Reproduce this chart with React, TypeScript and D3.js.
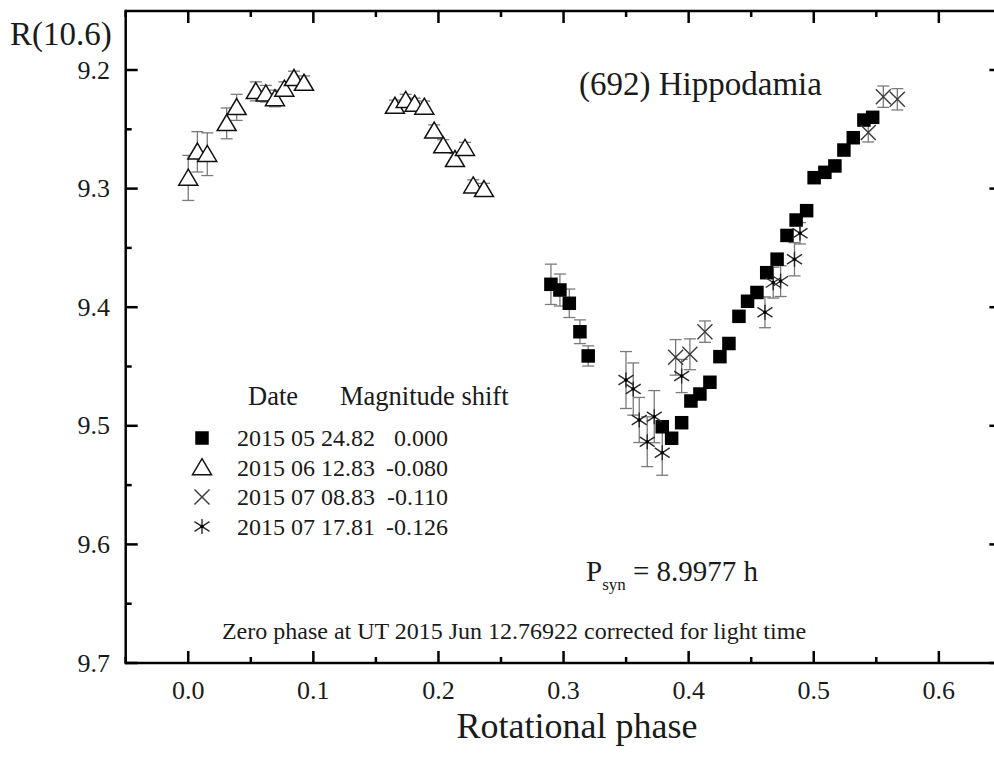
import React from "react";
import * as d3 from "d3";

// Lightcurve of (692) Hippodamia, R magnitude vs rotational phase
type Obs = { phase: number; mag: number; err: number };

const squarePhase = [0.2899, 0.2971, 0.3046, 0.3131, 0.3197, 0.3789, 0.3864, 0.3944, 0.4018, 0.409, 0.417, 0.425, 0.4322, 0.4402, 0.4471, 0.4546, 0.4624, 0.4707, 0.4786, 0.4859, 0.4943, 0.5003, 0.5089, 0.5169, 0.5241, 0.5316, 0.5401, 0.5471];
const squareMag = [9.3807, 9.3855, 9.3967, 9.4207, 9.4411, 9.5008, 9.5105, 9.4974, 9.4791, 9.4732, 9.4633, 9.4417, 9.4306, 9.4077, 9.395, 9.3876, 9.3709, 9.3595, 9.3395, 9.3265, 9.3186, 9.2908, 9.2863, 9.2809, 9.2675, 9.2571, 9.2422, 9.2399];
const squareErr = [0.017, 0.0135, 0.012, 0.01, 0.0085, 0, 0, 0, 0, 0, 0, 0, 0, 0, 0, 0, 0, 0, 0, 0, 0, 0, 0, 0, 0, 0, 0, 0];

const trianglePhase = [0.0, 0.0073, 0.0152, 0.0307, 0.0387, 0.054, 0.062, 0.0693, 0.0768, 0.0845, 0.0925, 0.1652, 0.1738, 0.181, 0.1887, 0.1966, 0.2038, 0.2132, 0.2212, 0.2278, 0.2364];
const triangleMag = [9.291, 9.269, 9.271, 9.245, 9.2315, 9.218, 9.22, 9.224, 9.216, 9.207, 9.211, 9.2304, 9.2255, 9.2287, 9.2312, 9.2513, 9.2638, 9.2753, 9.266, 9.2976, 9.3006];
const triangleErr = [0.019, 0.017, 0.018, 0.013, 0.011, 0.008, 0.007, 0.007, 0.006, 0.006, 0.006, 0.005, 0.005, 0.005, 0.005, 0.005, 0.005, 0.005, 0.005, 0.005, 0.005];

const crossPhase = [0.3896, 0.401, 0.413, 0.5436, 0.5556, 0.5668];
const crossMag = [9.4423, 9.4397, 9.4206, 9.2527, 9.2225, 9.2247];
const crossErr = [0.015, 0.013, 0.009, 0.008, 0.009, 0.009];

const starPhase = [0.3499, 0.3557, 0.3605, 0.3669, 0.3725, 0.3789, 0.3944, 0.461, 0.4676, 0.4735, 0.4846, 0.489];
const starMag = [9.4614, 9.469, 9.4951, 9.5134, 9.4923, 9.5227, 9.458, 9.4043, 9.3793, 9.378, 9.3596, 9.3377];
const starErr = [0.024, 0.022, 0.019, 0.021, 0.022, 0.019, 0.014, 0.013, 0.013, 0.013, 0.014, 0.009];

const legendDates = ["2015 05 24.82", "2015 06 12.83", "2015 07 08.83", "2015 07 17.81"];
const legendShifts = ["0.000", "-0.080", "-0.110", "-0.126"];

const xMajorTicks = [0.0, 0.1, 0.2, 0.3, 0.4, 0.5, 0.6];
const xMinorTicks = [-0.05, 0.05, 0.15, 0.25, 0.35, 0.45, 0.55, 0.65];
const yMajorTicks = [9.2, 9.3, 9.4, 9.5, 9.6, 9.7];
const yMinorTicks = [9.25, 9.35, 9.45, 9.55, 9.65];

const zip = (p: number[], m: number[], e: number[]): Obs[] =>
  p.map((phase, i) => ({ phase, mag: m[i], err: e[i] }));

const squares = zip(squarePhase, squareMag, squareErr);
const triangles = zip(trianglePhase, triangleMag, triangleErr);
const crosses = zip(crossPhase, crossMag, crossErr);
const stars = zip(starPhase, starMag, starErr);

const W = 994;
const H = 758;
const left = 125.7;
const right = 1001.4;
const top = 11;
const bottom = 663;

const x = d3.scaleLinear().domain([-0.05, 0.65]).range([left, right]);
const y = d3.scaleLinear().domain([9.15, 9.7]).range([10.7, bottom]);

const FONT = "'Liberation Serif', 'Times New Roman', serif";
const ERR = "#7a7a7a";
const INK = "#1a1a1a";

type Kind = "square" | "triangle" | "cross" | "star";

function Marker({ kind, cx, cy }: { kind: Kind; cx: number; cy: number }) {
  if (kind === "square") {
    const s = 13.5;
    return <rect x={cx - s / 2} y={cy - s / 2} width={s} height={s} fill="#000" />;
  }
  if (kind === "triangle") {
    const hw = 9.5;
    const h = 16;
    const pts = [
      [cx, cy - h * 0.55],
      [cx + hw, cy + h * 0.45],
      [cx - hw, cy + h * 0.45],
    ];
    return <polygon points={pts.map((p) => p.join(",")).join(" ")} fill="#fff" stroke="#111" strokeWidth={1.5} />;
  }
  if (kind === "cross") {
    const r = 7.5;
    return (
      <g stroke="#3a3a3a" strokeWidth={1.4}>
        <line x1={cx - r} y1={cy - r} x2={cx + r} y2={cy + r} />
        <line x1={cx - r} y1={cy + r} x2={cx + r} y2={cy - r} />
      </g>
    );
  }
  const r = 7.5;
  return (
    <g stroke="#2a2a2a" strokeWidth={1.4}>
      <line x1={cx - r} y1={cy - r * 0.65} x2={cx + r} y2={cy + r * 0.65} />
      <line x1={cx - r} y1={cy + r * 0.65} x2={cx + r} y2={cy - r * 0.65} />
      <line x1={cx} y1={cy - r} x2={cx} y2={cy + r} />
      <circle cx={cx} cy={cy} r={1.8} fill="#000" stroke="none" />
    </g>
  );
}

function ErrorBars({ data }: { data: Obs[] }) {
  const cap = 6;
  return (
    <g stroke={ERR} strokeWidth={1.3} fill="none">
      {data
        .filter((d) => d.err > 0)
        .map((d, i) => {
          const cx = x(d.phase);
          const y1 = y(d.mag - d.err);
          const y2 = y(d.mag + d.err);
          return (
            <g key={i}>
              <line x1={cx} y1={y1} x2={cx} y2={y2} />
              <line x1={cx - cap} y1={y1} x2={cx + cap} y2={y1} />
              <line x1={cx - cap} y1={y2} x2={cx + cap} y2={y2} />
            </g>
          );
        })}
    </g>
  );
}

function Series({ data, kind }: { data: Obs[]; kind: Kind }) {
  return (
    <g>
      {data.map((d, i) => (
        <Marker key={i} kind={kind} cx={x(d.phase)} cy={y(d.mag)} />
      ))}
    </g>
  );
}

export default function App() {
  const legendKinds: Kind[] = ["square", "triangle", "cross", "star"];
  const rowY = [438, 467.5, 497, 526.5];
  return (
    <svg
      width={W}
      height={H}
      viewBox={`0 0 ${W} ${H}`}
      style={{ position: "absolute", left: 0, top: 0, background: "#fff" }}
    >
      <rect x={0} y={0} width={W} height={H} fill="#fff" />

      {/* error bars under the markers */}
      <ErrorBars data={triangles} />
      <ErrorBars data={squares} />
      <ErrorBars data={crosses} />
      <ErrorBars data={stars} />

      <Series data={triangles} kind="triangle" />
      <Series data={squares} kind="square" />
      <Series data={crosses} kind="cross" />
      <Series data={stars} kind="star" />

      {/* frame */}
      <g stroke="#000" strokeWidth={2.5} fill="none">
        <line x1={left} y1={top} x2={right} y2={top} />
        <line x1={left} y1={bottom} x2={right} y2={bottom} />
        <line x1={left} y1={top - 1.25} x2={left} y2={bottom + 1.25} />
        <line x1={right} y1={top} x2={right} y2={bottom} />
      </g>

      {/* ticks, pointing inward */}
      <g stroke="#000" strokeWidth={2.5}>
        {xMajorTicks.map((t) => (
          <g key={`xM${t}`}>
            <line x1={x(t)} y1={bottom} x2={x(t)} y2={bottom - 12} />
            <line x1={x(t)} y1={top} x2={x(t)} y2={top + 12} />
          </g>
        ))}
        {xMinorTicks.map((t) => (
          <g key={`xm${t}`}>
            <line x1={x(t)} y1={bottom} x2={x(t)} y2={bottom - 6} />
            <line x1={x(t)} y1={top} x2={x(t)} y2={top + 6} />
          </g>
        ))}
        {yMajorTicks.map((t) => (
          <g key={`yM${t}`}>
            <line x1={left} y1={y(t)} x2={left + 12} y2={y(t)} />
            <line x1={right} y1={y(t)} x2={right - 12} y2={y(t)} />
          </g>
        ))}
        {yMinorTicks.map((t) => (
          <g key={`ym${t}`}>
            <line x1={left} y1={y(t)} x2={left + 6} y2={y(t)} />
            <line x1={right} y1={y(t)} x2={right - 6} y2={y(t)} />
          </g>
        ))}
      </g>

      {/* tick labels */}
      <g fontFamily={FONT} fontSize={26} fill={INK}>
        {xMajorTicks.map((t) => (
          <text key={`xl${t}`} x={x(t)} y={699} textAnchor="middle">
            {t.toFixed(1)}
          </text>
        ))}
        {yMajorTicks.map((t) => (
          <text key={`yl${t}`} x={110} y={y(t) + 8.5} textAnchor="end">
            {t.toFixed(1)}
          </text>
        ))}
      </g>

      {/* axis titles */}
      <text x={10} y={45} fontFamily={FONT} fontSize={33} fill={INK}>
        R(10.6)
      </text>
      <text x={577} y={738} fontFamily={FONT} fontSize={36} fill={INK} textAnchor="middle">
        Rotational phase
      </text>

      {/* annotations */}
      <text x={579} y={95} fontFamily={FONT} fontSize={33} fill={INK}>
        (692) Hippodamia
      </text>
      <text x={586} y={581} fontFamily={FONT} fontSize={29} fill={INK}>
        P
        <tspan fontSize={17} dy={9}>syn</tspan>
        <tspan dy={-9}> = 8.9977 h</tspan>
      </text>
      <text x={514} y={639} fontFamily={FONT} fontSize={24} fill={INK} textAnchor="middle">
        Zero phase at UT 2015 Jun 12.76922 corrected for light time
      </text>

      {/* legend */}
      <g fontFamily={FONT} fill={INK}>
        <text x={248} y={405} fontSize={26.5}>Date</text>
        <text x={340} y={405} fontSize={26.5}>Magnitude shift</text>
        {legendDates.map((d, i) => (
          <g key={d} fontSize={24}>
            <Marker kind={legendKinds[i]} cx={202} cy={rowY[i]} />
            <text x={237} y={rowY[i] + 8}>{d}</text>
            <text x={448} y={rowY[i] + 8} textAnchor="end">
              {legendShifts[i]}
            </text>
          </g>
        ))}
      </g>
    </svg>
  );
}
